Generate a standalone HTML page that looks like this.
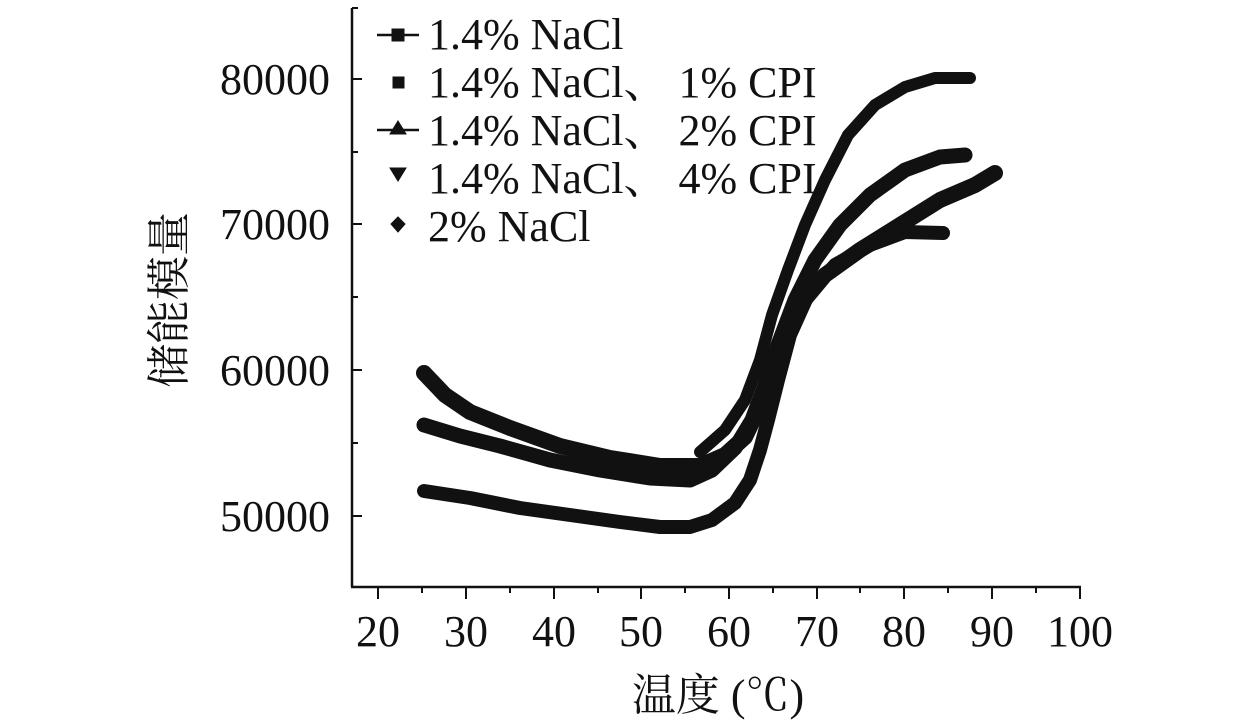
<!DOCTYPE html>
<html><head><meta charset="utf-8"><style>
body{margin:0;background:#fff}
svg{display:block}
text{font-family:"Liberation Serif","Noto Serif CJK SC",serif;fill:#111}
</style></head><body>
<svg width="1260" height="723" viewBox="0 0 1260 723">
<g stroke="#111" stroke-width="2.5" fill="none">
<line x1="352" y1="8" x2="352" y2="587"/>
<line x1="351" y1="587" x2="1081" y2="587"/>
</g>
<g stroke="#111" stroke-width="2">
<line x1="352" y1="79" x2="362" y2="79"/><line x1="352" y1="224" x2="362" y2="224"/>
<line x1="352" y1="370" x2="362" y2="370"/><line x1="352" y1="516" x2="362" y2="516"/>
<line x1="352" y1="152" x2="358" y2="152"/><line x1="352" y1="297" x2="358" y2="297"/>
<line x1="352" y1="443" x2="358" y2="443"/><line x1="352" y1="8" x2="358" y2="8"/>
<line x1="378" y1="587" x2="378" y2="599"/><line x1="466" y1="587" x2="466" y2="599"/>
<line x1="554" y1="587" x2="554" y2="599"/><line x1="641" y1="587" x2="641" y2="599"/>
<line x1="729" y1="587" x2="729" y2="599"/><line x1="817" y1="587" x2="817" y2="599"/>
<line x1="904" y1="587" x2="904" y2="599"/><line x1="992" y1="587" x2="992" y2="599"/>
<line x1="1080" y1="587" x2="1080" y2="599"/>
<line x1="598" y1="587" x2="598" y2="593"/><line x1="685" y1="587" x2="685" y2="593"/>
<line x1="773" y1="587" x2="773" y2="593"/><line x1="860" y1="587" x2="860" y2="593"/>
<line x1="948" y1="587" x2="948" y2="593"/><line x1="1036" y1="587" x2="1036" y2="593"/>
<line x1="422" y1="587" x2="422" y2="593"/><line x1="510" y1="587" x2="510" y2="593"/>
</g>
<g font-size="44" text-anchor="end">
<text x="330" y="94">80000</text><text x="330" y="239">70000</text>
<text x="330" y="385">60000</text><text x="330" y="531">50000</text>
</g>
<g font-size="44" text-anchor="middle">
<text x="378" y="646">20</text><text x="466" y="646">30</text><text x="554" y="646">40</text>
<text x="641" y="646">50</text><text x="729" y="646">60</text><text x="817" y="646">70</text>
<text x="904" y="646">80</text><text x="992" y="646">90</text><text x="1080" y="646">100</text>
</g>
<text x="718" y="710" font-size="44" text-anchor="middle">温度 (℃)</text>
<text transform="translate(184,300) rotate(-90)" font-size="44" text-anchor="middle">储能模量</text>
<g stroke="#111" fill="none" stroke-linejoin="round" stroke-linecap="round">
<polyline stroke-width="14" points="424,491 470,498 520,508 570,515 620,522 660,527 690,527 712,520 735,503 750,480 760,450 768,420 778,380 790,335 808,295 835,265 870,245 905,232 943,233"/>
<polyline stroke-width="16" points="424,373 445,395 470,412 510,428 560,446 610,458 660,466 700,466 725,455 745,437 758,410 770,380 782,345 800,305 825,275 860,250 900,225 940,200 975,185 995,173"/>
<polyline stroke-width="15" points="424,425 460,436 500,446 550,460 600,470 650,478 690,480 712,470 735,448 752,420 765,385 778,345 795,300 815,260 840,225 870,195 905,170 940,157 965,155"/>
<polyline stroke-width="12" points="700,452 725,430 745,400 760,360 772,315 788,270 805,225 825,180 848,135 875,105 905,87 935,78 970,78"/>
</g>
<g font-size="44">
<text x="428" y="49">1.4% NaCl</text>
<text x="428" y="97">1.4% NaCl、 1% CPI</text>
<text x="428" y="145">1.4% NaCl、 2% CPI</text>
<text x="428" y="193">1.4% NaCl、 4% CPI</text>
<text x="428" y="241">2% NaCl</text>
</g>
<g fill="#111" stroke="#111">
<line x1="377" y1="35" x2="419" y2="35" stroke-width="2.5"/><rect x="392" y="29" width="12" height="12"/>
<rect x="393" y="77" width="11" height="11"/>
<line x1="377" y1="130" x2="419" y2="130" stroke-width="2.5"/><polygon points="398,121 406,134 390,134"/>
<polygon points="390,168 406,168 398,181"/>
<polygon points="398,217 405,224 398,232 391,224"/>
</g>
</svg>
</body></html>
